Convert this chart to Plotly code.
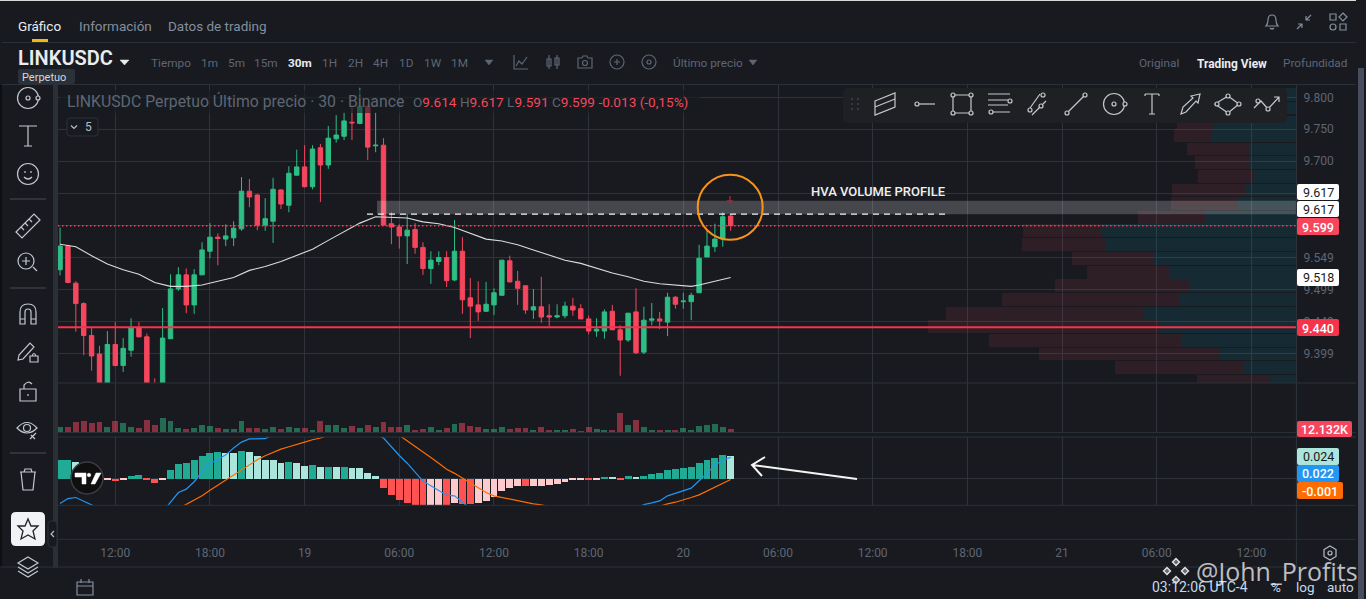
import pandas as pd
import plotly.graph_objects as go

W, H = 1366, 599
BG = "#181a20"
GRID = "#2e333b"
SEP = "#2b3139"
MUTED = "#5e6673"
ICON = "#c4c8ce"
UP = "#2ebd85"
DOWN = "#f6465d"

## Data (price, 30 min candles from 18th 08:30)

opens = [9.530, 9.567, 9.509, 9.477, 9.427, 9.398, 9.345, 9.413, 9.380, 9.404,
         9.439, 9.425, 9.350, 9.344, 9.422, 9.500, 9.522, 9.475, 9.522, 9.559,
         9.581, 9.578, 9.580, 9.594, 9.653, 9.647, 9.600, 9.606, 9.655, 9.631,
         9.678, 9.691, 9.660, 9.721, 9.694, 9.735, 9.739, 9.761, 9.759, 9.786,
         9.724, 9.725, 9.602, 9.597, 9.583, 9.593, 9.565, 9.532, 9.543, 9.549,
         9.514, 9.559, 9.486, 9.475, 9.465, 9.475, 9.490, 9.544, 9.512, 9.505,
         9.467, 9.472, 9.458, 9.456, 9.458, 9.473, 9.469, 9.453, 9.434, 9.434,
         9.465, 9.436, 9.420, 9.464, 9.401, 9.451, 9.453, 9.448, 9.487, 9.480,
         9.480, 9.494, 9.550, 9.566, 9.578, 9.614]
highs = [9.596, 9.568, 9.512, 9.479, 9.439, 9.411, 9.434, 9.448, 9.423, 9.454,
         9.448, 9.430, 9.360, 9.470, 9.523, 9.534, 9.532, 9.531, 9.573, 9.603,
         9.587, 9.601, 9.606, 9.675, 9.672, 9.649, 9.642, 9.674, 9.656, 9.692,
         9.718, 9.725, 9.725, 9.727, 9.755, 9.772, 9.776, 9.784, 9.815, 9.787,
         9.776, 9.736, 9.620, 9.601, 9.617, 9.603, 9.573, 9.559, 9.559, 9.559,
         9.608, 9.581, 9.517, 9.512, 9.511, 9.501, 9.545, 9.552, 9.528, 9.505,
         9.500, 9.519, 9.476, 9.476, 9.480, 9.486, 9.476, 9.458, 9.454, 9.468,
         9.475, 9.443, 9.462, 9.501, 9.472, 9.478, 9.464, 9.494, 9.489, 9.494,
         9.494, 9.569, 9.592, 9.602, 9.620, 9.617]
lows = [9.521, 9.509, 9.433, 9.396, 9.372, 9.338, 9.340, 9.379, 9.370, 9.394,
        9.424, 9.342, 9.335, 9.340, 9.422, 9.497, 9.462, 9.461, 9.522, 9.548,
        9.537, 9.567, 9.567, 9.591, 9.628, 9.592, 9.591, 9.572, 9.625, 9.620,
        9.678, 9.659, 9.656, 9.636, 9.688, 9.729, 9.733, 9.733, 9.758, 9.702,
        9.714, 9.600, 9.570, 9.563, 9.539, 9.555, 9.522, 9.508, 9.537, 9.503,
        9.512, 9.461, 9.423, 9.450, 9.464, 9.459, 9.490, 9.510, 9.475, 9.461,
        9.453, 9.447, 9.442, 9.454, 9.454, 9.458, 9.453, 9.429, 9.425, 9.422,
        9.436, 9.364, 9.417, 9.398, 9.398, 9.443, 9.437, 9.426, 9.469, 9.469,
        9.451, 9.494, 9.550, 9.558, 9.566, 9.591]
closes = [9.567, 9.510, 9.477, 9.427, 9.395, 9.345, 9.413, 9.380, 9.407, 9.439,
          9.425, 9.346, 9.342, 9.423, 9.500, 9.522, 9.475, 9.522, 9.561, 9.581,
          9.579, 9.583, 9.595, 9.653, 9.644, 9.600, 9.610, 9.656, 9.633, 9.681,
          9.691, 9.660, 9.719, 9.694, 9.736, 9.741, 9.763, 9.760, 9.786, 9.722,
          9.725, 9.600, 9.597, 9.583, 9.592, 9.565, 9.532, 9.545, 9.549, 9.513,
          9.559, 9.483, 9.473, 9.464, 9.476, 9.494, 9.545, 9.511, 9.501, 9.467,
          9.472, 9.456, 9.456, 9.458, 9.473, 9.467, 9.453, 9.434, 9.437, 9.464,
          9.436, 9.420, 9.462, 9.400, 9.451, 9.453, 9.450, 9.487, 9.476, 9.481,
          9.490, 9.548, 9.567, 9.578, 9.613, 9.599]

ma_idx = [0, 2, 4, 6, 8, 10, 12, 14, 16, 18, 20, 22, 24, 26, 28, 30, 32, 34, 36, 38, 40, 42,
          44, 46, 48, 50, 52, 54, 56, 58, 60, 62, 64, 66, 68, 70, 72, 74, 76, 78, 80, 81, 82, 83, 84, 85]
ma_vals = [9.570, 9.566, 9.552, 9.539, 9.530, 9.523, 9.510, 9.504, 9.504, 9.506, 9.512, 9.518,
           9.529, 9.535, 9.543, 9.553, 9.562, 9.576, 9.590, 9.603, 9.613, 9.612,
           9.611, 9.605, 9.602, 9.596, 9.587, 9.578, 9.575, 9.569, 9.561, 9.553, 9.545, 9.540,
           9.532, 9.525, 9.519, 9.512, 9.508, 9.506, 9.504, 9.506, 9.509, 9.512, 9.516, 9.518]

# thousands
volumes = [17, 16, 31, 35, 29, 32, 17, 35, 29, 17, 14, 38, 23, 44, 35, 14, 11, 14, 23, 20,
           14, 11, 11, 35, 14, 14, 11, 17, 11, 17, 14, 14, 8, 35, 23, 23, 14, 20, 14, 23,
           17, 31, 16, 16, 22, 7, 10, 16, 7, 13, 25, 28, 19, 16, 10, 10, 16, 10, 13, 13,
           7, 16, 7, 7, 7, 10, 4, 16, 10, 7, 7, 58, 22, 37, 16, 7, 7, 7, 7, 13,
           7, 19, 22, 25, 16, 12.132]

macd_hist = [.0200, .0200, .0175, .0100, .0050, .0010, -.0010, -.0025, -.0010, .0029,
             .0039, -.0018, -.0047, -.0007, .0093, .0158, .0168, .0200, .0243, .0276,
             .0286, .0276, .0276, .0297, .0286, .0243, .0200, .0200, .0168, .0179,
             .0168, .0136, .0147, .0125, .0125, .0125, .0125, .0115, .0115, .0061,
             .0029, -.0100, -.0179, -.0233, -.0261, -.0286, -.0286, -.0290, -.0290, -.0290,
             -.0261, -.0276, -.0276, -.0261, -.0243, -.0200, -.0136, -.0100, -.0082, -.0082,
             -.0082, -.0082, -.0072, -.0061, -.0039, -.0018, -.0018, -.0018, -.0018, .0014,
             .0014, -.0007, .0029, .0007, .0029, .0050, .0064, .0093, .0104, .0115,
             .0125, .0168, .0200, .0222, .0254, .0240]
hist_kind = ("ttlllpprpt" "trrptttttt" "tlltlllllt" "lltltltlll" "lrrrrrrppr"
             "prrppppppr" "ppppppprpt" "lrtltttttt" "tttttl")

macd_idx = [0, 1, 2, 3, 4, 5, 6, 12, 13, 14, 15, 16, 17, 18, 19, 20, 21, 22, 23, 24, 25, 26, 27, 30, 35, 38,
            41, 42, 43, 44, 45, 46, 47, 48, 49, 50, 51, 52, 60, 72, 73, 74, 75, 76, 77, 78, 79, 80, 81, 82, 83, 84, 85]
macd_line = [-.0267, -.0213, -.0202, -.0238, -.0277, -.0320, -.0340, -.0400, -.0356, -.0256, -.0149, -.0113, -.0034,
             .0073, .0163, .0199, .0252, .0324, .0388, .0421, .0424, .0424, .0467, .0550, .0600, .0550,
             .0431, .0335, .0245, .0163, .0073, -.0027, -.0077, -.0124, -.0177, -.0184, -.0256, -.0320, -.0500, -.0450,
             -.0320, -.0277, -.0260, -.0238, -.0184, -.0159, -.0134, -.0102, -.0023, .0055, .0145, .0195, .0225]
signal_idx = [15, 16, 17, 18, 19, 20, 21, 22, 23, 24, 25, 26, 27, 28, 29, 30, 31, 32, 33, 34,
              None,
              43, 44, 45, 46, 47, 48, 49, 50, 51, 52, 53, 54, 55, 56, 57, 58, 59, 60, 61, 62,
              None,
              75, 76, 77, 78, 79, 80, 81, 82, 83, 84, 85]
signal_line = [-.0320, -.0277, -.0231, -.0184, -.0124, -.0070, -.0023, .0030, .0091, .0145, .0199, .0242, .0277,
               .0313, .0338, .0360, .0388, .0413, .0431, .0460,
               None,
               .0460, .0403, .0342, .0281, .0224, .0163, .0098, .0055, .0002, -.0052, -.0098, -.0149, -.0184,
               -.0202, -.0224, -.0238, -.0260, -.0270, -.0281, -.0300,
               None,
               -.0320, -.0292, -.0270, -.0252, -.0231, -.0202, -.0174, -.0134, -.0095, -.0048, -.0010]

vp_price = [9.356, 9.377, 9.398, 9.419, 9.441, 9.462, 9.483, 9.505, 9.526, 9.548, 9.570,
            9.591, 9.612, 9.634, 9.655, 9.676, 9.698, 9.719, 9.740, 9.761, 9.783, 9.804]
vp_buy = [27, 54, 77, 115, 137, 154, 118, 108, 128, 144, 191, 195, 92, 59, 51, 43, 47, 48, 85, 83, 60, 50]
vp_sell = [73, 128, 181, 193, 232, 197, 177, 134, 82, 81, 84, 79, 67, 67, 74, 56, 55, 62, 38, 37, 45, 30]

price_ticks = [9.800, 9.750, 9.700, 9.650, 9.600, 9.549, 9.499, 9.449, 9.399]
time_hours = [0, 6, 12, 18, 24, 30, 36, 42, 48, 54, 60, 66, 72]
time_labels = ["12:00", "18:00", "19", "06:00", "12:00", "18:00", "20", "06:00", "12:00", "18:00", "21", "06:00", "12:00"]

LAST_PRICE = 9.599
HVA_PRICE = 9.617
HVA_TOP = 9.638
SUPPORT = 9.440

## Helpers, all chrome below is placed in screen pixels

base = pd.Timestamp("2025-01-18 12:00")
times = pd.date_range("2025-01-18 08:30", periods=len(opens), freq="30min")
idx_time = lambda idx: [None if i is None else times[i] for i in idx]
X = lambda x: x / W
Y = lambda y: 1 - y / H
shapes = []
notes = []


def px_path(s, ox=0, oy=0):
    out, nums = [], []
    for tok in s.split():
        if tok.isalpha():
            out.append(tok)
        else:
            nums.append(float(tok))
            if len(nums) == 2:
                out.append(f"{X(nums[0] + ox):.5f},{Y(nums[1] + oy):.5f}")
                nums = []
    return " ".join(out)


def draw(s, ox=0, oy=0, color=ICON, w=1.2, fill=None, opacity=1):
    shapes.append(dict(type="path", xref="paper", yref="paper", path=px_path(s, ox, oy), opacity=opacity,
                       line=dict(color=color, width=w), fillcolor=fill or "rgba(0,0,0,0)", layer="above"))


def ring(cx, cy, r, color=ICON, w=1.2, fill=None):
    shapes.append(dict(type="circle", xref="paper", yref="paper", x0=X(cx - r), x1=X(cx + r), y0=Y(cy + r), y1=Y(cy - r),
                       line=dict(color=color, width=w), fillcolor=fill or "rgba(0,0,0,0)", layer="above"))


def box(x0, y0, x1, y1, fill, line=None):
    shapes.append(dict(type="rect", xref="paper", yref="paper", x0=X(x0), x1=X(x1), y0=Y(y1), y1=Y(y0), fillcolor=fill,
                       line=dict(color=line or "rgba(0,0,0,0)", width=1 if line else 0), layer="above"))


def rbox(x0, y0, x1, y1, r, fill, line=None):
    s = (f"M {x0 + r} {y0} L {x1 - r} {y0} Q {x1} {y0} {x1} {y0 + r} L {x1} {y1 - r} Q {x1} {y1} {x1 - r} {y1} "
         f"L {x0 + r} {y1} Q {x0} {y1} {x0} {y1 - r} L {x0} {y0 + r} Q {x0} {y0} {x0 + r} {y0} Z")
    draw(s, color=line or "rgba(0,0,0,0)", w=1 if line else 0, fill=fill)


def txt(x, y, s, size=12, color=MUTED, anchor="left", font="Roboto", weight=None):
    f = dict(size=size, color=color, family=font)
    if weight:
        f["weight"] = weight
    notes.append(dict(xref="paper", yref="paper", x=X(x), y=Y(y), text=s, showarrow=False, xanchor=anchor, yanchor="middle",
                      borderpad=0, borderwidth=0, font=f))


def hline(y, x0=58, x1=1356, color=SEP, w=1):
    draw(f"M {x0} {y} L {x1} {y}", color=color, w=w)


## Traces

fig = go.Figure()
fig.add_trace(go.Bar(y=vp_price, x=vp_buy, orientation="h", xaxis="x2", yaxis="y", width=0.0198,
                     marker=dict(color="rgba(0,188,212,0.10)", line_width=0)))
fig.add_trace(go.Bar(y=vp_price, x=vp_sell, orientation="h", xaxis="x2", yaxis="y", width=0.0198,
                     marker=dict(color="rgba(246,70,93,0.10)", line_width=0)))
fig.add_trace(go.Candlestick(x=times, open=opens, high=highs, low=lows, close=closes,
                             increasing=dict(line=dict(color=UP, width=1), fillcolor=UP),
                             decreasing=dict(line=dict(color=DOWN, width=1), fillcolor=DOWN)))
fig.add_trace(go.Scatter(x=idx_time(ma_idx), y=ma_vals, mode="lines", line=dict(color="#dcdcdc", width=1.1)))
vol_colors = ["rgba(46,189,133,0.5)" if c >= o else "rgba(246,70,93,0.5)" for o, c in zip(opens, closes)]
fig.add_trace(go.Bar(x=times, y=volumes, yaxis="y2", width=1350000, marker=dict(color=vol_colors, line_width=0)))
kind_colors = {"t": "#22ab94", "l": "#ace5dc", "r": "#ff5252", "p": "#fccbcd"}
fig.add_trace(go.Bar(x=times, y=macd_hist, yaxis="y3", width=1580000,
                     marker=dict(color=[kind_colors[k] for k in hist_kind], line_width=0)))
fig.add_trace(go.Scatter(x=idx_time(macd_idx), y=macd_line, yaxis="y3", mode="lines", line=dict(color="#2196f3", width=1.2)))
fig.add_trace(go.Scatter(x=idx_time(signal_idx), y=signal_line, yaxis="y3", mode="lines", line=dict(color="#ff6d00", width=1.2)))

## Drawings on the price pane

shapes.append(dict(type="rect", xref="paper", yref="y", x0=X(377), x1=X(1296.5), y0=HVA_PRICE, y1=HVA_TOP,
                   fillcolor="rgba(255,255,255,0.2)", line_width=0, layer="above"))
shapes.append(dict(type="line", xref="paper", yref="y", x0=X(367), x1=X(945), y0=HVA_PRICE, y1=HVA_PRICE,
                   line=dict(color="#f4f4f4", width=1.3, dash="6px,5px"), layer="above"))
shapes.append(dict(type="line", xref="paper", yref="y", x0=X(58), x1=X(1296.5), y0=LAST_PRICE, y1=LAST_PRICE,
                   line=dict(color="#ff3b55", width=1.5, dash="1.5px,2.5px"), layer="above"))
shapes.append(dict(type="line", xref="paper", yref="y", x0=X(58), x1=X(1296.5), y0=SUPPORT, y1=SUPPORT,
                   line=dict(color="#f6334b", width=2), layer="above"))
ring(730.2, 207.3, 32.5, color="#f7931a", w=2)
draw("M 0 0 L 0 6 M -2 5 L 2 5 L 0 7 Z", 730, 196, color="#8a3040", w=1.4)
txt(811, 191, "HVA VOLUME PROFILE", 13, "#f0f0f0", weight=500)
draw("M 857 479 L 752 465 M 765 457 L 752 465 L 762 476", color="#f4f4f4", w=2)

box(60, 90, 700, 113, "rgba(24,26,32,0.6)")
txt(67, 102, "LINKUSDC Perpetuo Último precio · 30 · Binance", 15.8, MUTED)
red = lambda s: f'<span style="color:{DOWN}">{s}</span>'
txt(413, 102, f"O{red('9.614')} H{red('9.617')} L{red('9.591')} C{red('9.599')} {red('-0.013 (-0,15%)')}", 13.6, MUTED)
rbox(67, 118, 98, 136, 3, BG, "#2b3139")
draw("M 0 0 L 3 3 L 6 0", 71, 125.5, color="#b7bdc6")
txt(85, 127, "5", 12, "#b7bdc6")

## Pane separators and bottom bar

hline(383)
hline(432.6)
hline(437)
hline(505.3)
hline(539.3, x0=58, x1=1356)
draw("M 1296.5 85 L 1296.5 567", color=SEP)
draw("M 1258 571 L 1258 592", color=SEP)

## Axis value tags

tags = [(184, 200, 1339, "9.617", "#ffffff", "#181a20"), (201, 217, 1339, "9.617", "#ffffff", "#181a20"),
        (218, 235, 1339, "9.599", DOWN, "#ffffff"), (269, 286, 1339, "9.518", "#ffffff", "#181a20"),
        (319, 336, 1339, "9.440", "#f6334b", "#ffffff"), (421, 437, 1352, "12.132K", DOWN, "#ffffff"),
        (448, 465, 1339, "0.024", "#ace5dc", "#181a20"), (465, 482, 1339, "0.022", "#2196f3", "#ffffff"),
        (482, 499, 1343, "-0.001", "#ff6d00", "#ffffff")]
for y0, y1, x1, label, fill, fg in tags:
    rbox(1297, y0, x1, y1, 2, fill)
    txt((1297 + x1) / 2, (y0 + y1) / 2 + 0.5, label, 12.5, fg, "center", weight=500 if fg == "#ffffff" else None)

## TradingView badge over the MACD pane

ring(87, 478, 16, color="#3a3d44", w=1.5, fill="#0f0f10")
draw("M -12 -5 L -1 -5 L -1 6 L -5 6 L -5 -1 L -12 -1 Z", 87, 478, color="#ffffff", w=0.5, fill="#ffffff")
ring(89, 475, 1.8, color="#ffffff", w=0.5, fill="#ffffff")
draw("M 4 6 L 9 -5 L 14 -5 L 8 6 Z", 87, 478, color="#ffffff", w=0.5, fill="#ffffff")

## Header

box(0, 0, 1366, 1, "#d8d8d8")
box(0, 1, 1366, 84.5, BG)
box(0, 85, 53, 599, BG)
box(53, 85, 58, 599, "#2b2f36")
box(0, 85, 2, 599, "#0e0f12")
box(1356, 0, 1366, 599, BG)
box(1358, 68, 1364, 599, "#474d5c")
box(0, 568, 1356, 599, BG)
hline(42.5, x0=2, x1=1356)
hline(84.5, x0=2, x1=1356)
hline(567, x0=0, x1=1356)
box(32, 39, 48, 42, "#f0b90b")
txt(18, 26, "Gráfico", 13.5, "#eaecef")
txt(79, 26, "Información", 13.5, "#848e9c")
txt(168, 26, "Datos de trading", 13.5, "#848e9c")
txt(18, 58, "LINKUSDC", 20, "#eaecef", weight=600)
draw("M 0 0 L 9 0 L 4.5 5 Z", 120, 60, color="#eaecef", w=0.5, fill="#eaecef")
rbox(18, 69, 75, 84, 2, "#2b3139")
txt(22, 77, "Perpetuo", 11, "#d5d8dc")
for x, s in [(151, "Tiempo"), (201, "1m"), (228, "5m"), (254, "15m"), (322, "1H"), (348, "2H"), (373, "4H"), (399, "1D"),
             (424, "1W"), (451, "1M"), (673, "Último precio"), (1139, "Original"), (1283, "Profundidad")]:
    txt(x, 63, s, 11.8, MUTED)
txt(288, 63, "30m", 11.8, "#eaecef", weight=700)
txt(1197, 64, "Trading View", 11.9, "#eaecef", weight=700)
draw("M 0 0 L 8 0 L 4 5 Z", 485, 60, color=MUTED, w=0.5, fill=MUTED)
draw("M 0 0 L 8 0 L 4 5 Z", 749, 60, color=MUTED, w=0.5, fill=MUTED)

# chart tool icons in the toolbar row
draw("M -7 -7 L -7 7 L 7 7 M -5 4 L -2 -1 L 1 2 L 6 -5", 521, 62, color=MUTED)
draw("M -4 -7 L -4 7 M -6 -3 L -2 -3 L -2 4 L -6 4 Z M 4 -7 L 4 7 M 2 -4 L 6 -4 L 6 3 L 2 3 Z", 553, 62, color=MUTED)
draw("M -7 -4 L -3 -4 L -2 -6 L 2 -6 L 3 -4 L 7 -4 L 7 6 L -7 6 Z", 585, 62, color=MUTED)
ring(585, 63, 2.5, color=MUTED)
ring(617, 62, 7, color=MUTED)
draw("M -3 0 L 3 0 M 0 -3 L 0 3", 617, 62, color=MUTED)
ring(649, 62, 7, color=MUTED)
ring(649, 62, 2, color=MUTED)

# top right icons
draw("M -6 4 Q -4 2 -4 -2 Q -4 -7 0 -7 Q 4 -7 4 -2 Q 4 2 6 4 Z M -2 6 Q 0 8 2 6", 1272, 22, color="#848e9c")
draw("M -7 7 L -2 2 M -2 6 L -2 2 L -6 2 M 7 -7 L 2 -2 M 2 -6 L 2 -2 L 6 -2", 1304, 22, color="#848e9c")
draw("M -8 -8 L -2 -8 L -2 -2 L -8 -2 Z M 2 2 L 8 2 L 8 8 L 2 8 Z M 5 -9 L 9 -5 L 5 -1 L 1 -5 Z", 1338, 22, color="#848e9c")
ring(1333, 27, 3, color="#848e9c")

## Drawing toolbar

rbox(843, 88, 1287, 123, 6, "#1e2023")
for dx in (852, 858):
    for dy in (99, 104, 109):
        box(dx - 0.8, dy - 0.8, dx + 0.8, dy + 0.8, "#474d57")
TB = 104
draw("M -10 -3 L 10 -11 L 10 3 L -10 11 Z M -10 3 L 10 -5", 885, TB)
draw("M -7 0 L 10 0", 925, TB)
ring(917, TB, 2, fill="#1e2023")
draw("M -9 -9 L 9 -9 L 9 9 L -9 9 Z", 962, TB)
for dx, dy in [(-9, -9), (9, -9), (-9, 9), (9, 9)]:
    ring(962 + dx, TB + dy, 2, fill="#1e2023")
draw("M -12 -10 L 10 -10 M -12 -4 L 8 -4 M -12 1 L 8 1 M -8 8 L 10 8", 1000, TB)
ring(1010, 101, 2, fill="#1e2023")
ring(991, 112, 2, fill="#1e2023")
draw("M -8 6 L 2 -8 M -6 13 L 8 -1", 1038, TB - 2)
ring(1030, 110, 2, fill="#1e2023")
ring(1043, 95, 2, fill="#1e2023")
ring(1041, 106, 2, fill="#1e2023")
draw("M -9 9 L 9 -9", 1076, TB)
ring(1067, 113, 2, fill="#1e2023")
ring(1085, 95, 2, fill="#1e2023")
ring(1114, TB, 10.5)
ring(1114, TB, 2)
ring(1125, TB, 2, fill="#1e2023")
draw("M -7 -10 L 7 -10 M 0 -10 L 0 10 M -3 10 L 3 10 M -7 -10 L -7 -8 M 7 -10 L 7 -8", 1152, TB)
draw("M -9 10 L -7 3 L 3 -6 L 1 -8 L 10 -10 L 8 -1 L 6 -3 L -4 8 Z", 1190, TB)
draw("M -13 0 L 0 -8 L 11 0 L 0 9 Z", 1228, TB)
for dx, dy in [(-11, 0), (0, -8), (11, 0), (0, 9)]:
    ring(1228 + dx, TB + dy, 2, fill="#1e2023")
draw("M -12 4 L -5 -3 L 2 5 L 13 -7 M 8 -7 L 13 -7 L 13 -2", 1266, TB)
ring(1258, 101, 2, fill="#1e2023")
ring(1268, 109, 2, fill="#1e2023")

## Left sidebar

ring(28, 98, 10.5)
ring(28, 98, 2)
ring(38, 98, 2, fill=BG)
draw("M -9 -10 L 9 -10 M 0 -10 L 0 10 M -4 10 L 4 10", 28, 136)
ring(28, 174, 10.5)
draw("M -3 -3 L -3 -1 M 3 -3 L 3 -1 M -4 3 Q 0 7 4 3", 28, 174)
hline(199, x0=10, x1=46, color="#474d57")
draw("M -12 6 L 6 -12 L 12 -6 L -6 12 Z M -7 1 L -4 4 M -3 -3 L 0 0 M 1 -7 L 4 -4", 28, 226)
ring(26, 261, 8)
draw("M 5 5 L 9 9 M -6 -1 L 2 -1 M -2 -5 L -2 3", 28, 262)
hline(288, x0=10, x1=46, color="#474d57")
draw("M -8 10 L -8 -2 Q -8 -10 0 -10 Q 8 -10 8 -2 L 8 10 L 3 10 L 3 -2 Q 3 -5 0 -5 Q -3 -5 -3 -2 L -3 10 Z M -8 5 L -3 5 M 3 5 L 8 5", 28, 314)
draw("M -10 8 L -9 3 L 2 -9 L 6 -5 L -5 7 Z M 2 4 L 10 4 L 10 10 L 2 10 Z M 4 4 Q 6 -1 8 4", 28, 352)
draw("M -8 -2 L 8 -2 L 8 10 L -8 10 Z M -4 -2 L -4 -6 Q 0 -11 4 -7 M 0 3 L 0 5", 28, 391)
draw("M -10 0 Q 0 -11 10 0 Q 0 10 -10 0 Z M 3 11 L 9 5 M 4 7 L 8 11", 27, 428)
ring(27, 428, 3.5)
hline(453, x0=10, x1=46, color="#474d57")
draw("M -8 -7 L 8 -7 M -7 -7 L -5 11 L 5 11 L 7 -7 M -4 -7 L -3 -10 L 3 -10 L 4 -7", 28, 479)
rbox(11, 512, 45, 546, 5, "#f1f2f3")
draw("M 0 -10 L 3 -3 L 10 -3 L 5 2 L 7 10 L 0 6 L -7 10 L -5 2 L -10 -3 L -3 -3 Z", 28, 529, color="#1e2329", w=1.3)
draw("M 0 -9 L 10 -3 L 0 3 L -10 -3 Z M -10 1 L 0 7 L 10 1 M -10 5 L 0 11 L 10 5", 28, 566)
rbox(48, 521, 57, 547, 4, BG, "#2b3139")
draw("M 2 -3 L -1 0 L 2 3", 52, 534, color="#b7bdc6")

## Bottom bar

draw("M -8 -5 L 8 -5 L 8 8 L -8 8 Z M -8 -1 L 8 -1 M -4 -8 L -4 -4 M 4 -8 L 4 -4", 85, 587, color="#848e9c")
draw("M 0 -7 L 6 -3.5 L 6 3.5 L 0 7 L -6 3.5 L -6 -3.5 Z", 1330, 553, color="#b7bdc6")
ring(1330, 553, 2, color="#b7bdc6")
txt(1152, 587, "03:12:06 UTC-4", 14, "#c3d9ee")
txt(1276, 587, "%", 13.5, "#c3d9ee", "center")
txt(1305, 587, "log", 13.5, "#c3d9ee", "center")
txt(1340, 587, "auto", 13.5, "#c3d9ee", "center")
for dx, dy in [(0, -9), (-9, 0), (9, 0), (0, 9)]:
    draw("M -3.5 0 L 0 -3.5 L 3.5 0 L 0 3.5 Z", 1176 + dx, 571 + dy, color="rgba(255,255,255,0.85)", w=1.4,
         fill="rgba(255,255,255,0.35)")
txt(1196, 571, "@John_Profits", 25, "rgba(255,255,255,0.72)", font="Open Sans")

## Layout

x_left = base + pd.Timedelta(hours=-3.63)
x_right = base + pd.Timedelta(hours=74.86)
fig.update_layout(
    width=W, height=H, margin=dict(l=0, r=0, t=0, b=0), paper_bgcolor=BG, plot_bgcolor=BG,
    showlegend=False, hovermode=False, dragmode=False, barmode="stack", bargap=0, boxgap=0.2,
    font=dict(family="Roboto", color=MUTED, size=12),
    xaxis=dict(type="date", domain=[X(58), X(1296.5)], range=[x_left, x_right], anchor="free", position=Y(544), side="bottom",
               tickmode="array", tickvals=[base + pd.Timedelta(hours=h) for h in time_hours], ticktext=time_labels,
               showgrid=True, gridcolor=GRID, gridwidth=1, zeroline=False, showline=False, ticks="",
               tickfont=dict(size=12, color=MUTED), rangeslider=dict(visible=False)),
    xaxis2=dict(domain=[X(58), X(1296.5)], range=[1238.5, 0], overlaying="x", anchor="y", visible=False),
    yaxis=dict(domain=[Y(383), Y(85)], range=[9.8 - (383 - 97.3) / 638.7, 9.8 + (97.3 - 85) / 638.7], side="right", anchor="x",
               tickmode="array", tickvals=price_ticks, ticktext=[f"{v:.3f}" for v in price_ticks], showgrid=True,
               gridcolor=GRID, zeroline=False, showline=False, ticks="", ticklabelstandoff=6, tickfont=dict(size=12, color=MUTED)),
    yaxis2=dict(domain=[Y(432.7), Y(383)], range=[0, 149], anchor="x", showgrid=False, zeroline=False, showticklabels=False, ticks=""),
    yaxis3=dict(domain=[Y(505.3), Y(437)], range=[-.0285, .0442], anchor="x", tickmode="array", tickvals=[0], showgrid=True,
                gridcolor=GRID, zeroline=False, showticklabels=False, ticks=""),
    shapes=shapes, annotations=notes,
)

fig.write_html("out.html", config={"displayModeBar": False},
               post_script="document.body.style.margin='0';document.body.style.background='#181a20';document.body.style.overflow='hidden';")
